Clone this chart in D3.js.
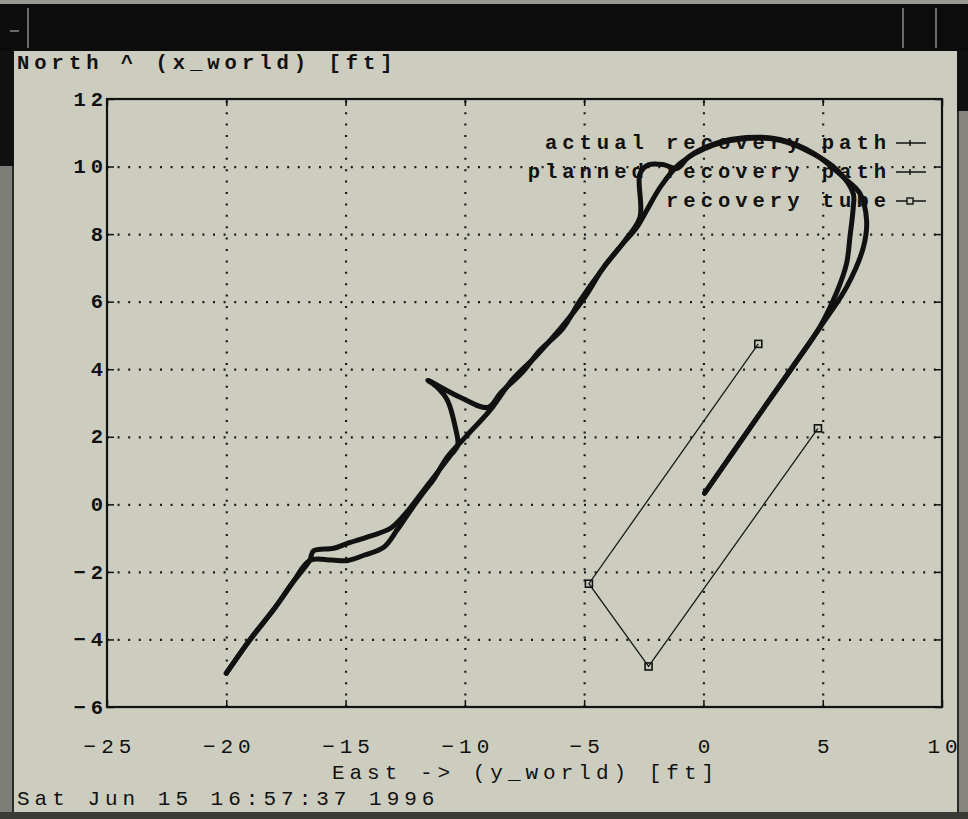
<!DOCTYPE html>
<html>
<head>
<meta charset="utf-8">
<script src="https://cdn.jsdelivr.net/npm/d3@7"></script>
<style>
  body { margin: 0; background: #cdcdbf; }
  svg { display: block; }
</style>
</head>
<body>
<div id="chart"></div>
<script>
// axis ticks
const xTicks = [-25, -20, -15, -10, -5, 0, 5, 10];
const yTicks = [-6, -4, -2, 0, 2, 4, 6, 8, 10, 12];

// actual recovery path [East y_world, North x_world]
const actualPath = [
  [-20.0, -5.0], [-19.0, -4.0], [-18.0, -3.1], [-17.2, -2.3], [-16.5, -1.66],
  [-16.35, -1.38], [-15.5, -1.3], [-14.9, -1.15], [-14.0, -0.95], [-13.1, -0.7],
  [-12.4, -0.2], [-11.8, 0.35], [-11.2, 0.9], [-10.6, 1.45], [-10.3, 1.75],
  [-10.4, 2.28], [-10.73, 3.08], [-11.15, 3.46], [-11.55, 3.67], [-10.2, 3.17],
  [-9.03, 2.87], [-8.5, 3.3], [-7.6, 3.9], [-6.85, 4.56], [-5.9, 5.2],
  [-5.2, 6.0], [-4.2, 7.0], [-3.3, 7.8], [-2.66, 8.5], [-2.66, 9.79],
  [-2.3, 10.05], [-1.7, 10.06], [-1.1, 9.95], [-0.6, 10.3], [0.4, 10.66],
  [1.8, 10.86], [3.2, 10.8], [4.6, 10.4], [6.0, 9.6], [6.56, 9.2],
  [6.84, 8.4], [6.7, 7.6], [6.0, 6.43], [4.9, 5.25], [3.7, 4.03],
  [2.5, 2.82], [1.3, 1.6], [0.05, 0.33]
];

// planned recovery path
const plannedPath = [
  [-20.0, -5.0], [-19.0, -4.0], [-18.0, -3.1], [-17.2, -2.3], [-16.5, -1.66],
  [-15.6, -1.65], [-14.9, -1.66], [-14.2, -1.5], [-13.4, -1.27], [-12.85, -0.77],
  [-12.2, -0.1], [-11.76, 0.33], [-11.3, 0.75], [-10.75, 1.39], [-9.9, 2.05],
  [-8.95, 2.78], [-8.0, 3.7], [-7.0, 4.4], [-6.0, 5.2], [-5.0, 6.1],
  [-4.2, 7.0], [-3.4, 7.7], [-2.79, 8.2], [-2.38, 8.7], [-1.8, 9.4],
  [-0.98, 10.09], [0.41, 10.63], [1.81, 10.83], [3.21, 10.78], [4.6, 10.38],
  [5.6, 9.9], [6.28, 9.2], [6.28, 8.8], [6.14, 7.91], [6.0, 7.13],
  [5.6, 6.3], [4.88, 5.25], [3.7, 4.03], [2.5, 2.82], [1.3, 1.6], [0.05, 0.33]
];

// recovery tube corners
const tubePoints = [[2.3, 4.75], [-4.8, -2.35], [-2.3, -4.8], [4.8, 2.25]];

const legendLabels = ["actual recovery path", "planned recovery path", "recovery tube"];
const yLabel = "North ^ (x_world) [ft]";
const xLabel = "East -> (y_world) [ft]";
const stamp = "Sat Jun 15 16:57:37 1996";

const width = 968, height = 819;
const margin = { top: 99, right: 26, bottom: 112, left: 107 };
const plotW = width - margin.left - margin.right;
const plotH = height - margin.top - margin.bottom;
const bg = "#cdcdbf";

const svg = d3.select("#chart").append("svg")
  .attr("width", width)
  .attr("height", height);

// window chrome
svg.append("rect").attr("width", width).attr("height", height).attr("fill", bg);
svg.append("rect").attr("x", 0).attr("y", 0).attr("width", width).attr("height", 4).attr("fill", "#9a9a92");
svg.append("rect").attr("x", 0).attr("y", 4).attr("width", width).attr("height", 47).attr("fill", "#0c0c0c");
svg.append("line").attr("x1", 28).attr("x2", 28).attr("y1", 8).attr("y2", 48).attr("stroke", "#8a8a84").attr("stroke-width", 1.5);
svg.append("line").attr("x1", 10).attr("x2", 19).attr("y1", 31).attr("y2", 31).attr("stroke", "#8a8a84").attr("stroke-width", 1.5);
svg.append("line").attr("x1", 903).attr("x2", 903).attr("y1", 8).attr("y2", 48).attr("stroke", "#8a8a84").attr("stroke-width", 1.5);
svg.append("line").attr("x1", 936).attr("x2", 936).attr("y1", 8).attr("y2", 48).attr("stroke", "#8a8a84").attr("stroke-width", 1.5);
svg.append("rect").attr("x", 0).attr("y", 51).attr("width", 14).attr("height", 115).attr("fill", "#111");
svg.append("rect").attr("x", 0).attr("y", 166).attr("width", 14).attr("height", height - 166).attr("fill", "#7e7e78");
svg.append("line").attr("x1", 13).attr("x2", 13).attr("y1", 166).attr("y2", height).attr("stroke", "#2a2a28").attr("stroke-width", 2);
svg.append("rect").attr("x", 957).attr("y", 51).attr("width", 11).attr("height", 60).attr("fill", "#111");
svg.append("rect").attr("x", 957).attr("y", 111).attr("width", 11).attr("height", height - 111).attr("fill", "#86867f");
svg.append("line").attr("x1", 958).attr("x2", 958).attr("y1", 111).attr("y2", height).attr("stroke", "#2a2a28").attr("stroke-width", 2);
svg.append("rect").attr("x", 0).attr("y", 812).attr("width", width).attr("height", 7).attr("fill", "#3a3a36");

const x = d3.scaleLinear().domain([-25, 10]).range([margin.left, margin.left + plotW]);
const y = d3.scaleLinear().domain([-6, 12]).range([margin.top + plotH, margin.top]);

// dotted grid
const gridX = svg.append("g")
  .attr("transform", `translate(0,${margin.top + plotH})`)
  .call(d3.axisBottom(x).tickValues(xTicks.slice(1, -1)).tickSize(-plotH).tickFormat(""));
gridX.select(".domain").remove();
gridX.selectAll("line").attr("stroke", "#1a1a1a").attr("stroke-width", 2.2).attr("stroke-dasharray", "2,9.4");

const gridY = svg.append("g")
  .attr("transform", `translate(${margin.left},0)`)
  .call(d3.axisLeft(y).tickValues(yTicks.slice(1, -1)).tickSize(-plotW).tickFormat(""));
gridY.select(".domain").remove();
gridY.selectAll("line").attr("stroke", "#1a1a1a").attr("stroke-width", 2.2).attr("stroke-dasharray", "2,8.6");

// inward tick marks on all four sides
const tickLen = 7;
[
  [d3.axisBottom(x).tickValues(xTicks), `translate(0,${margin.top + plotH})`],
  [d3.axisTop(x).tickValues(xTicks), `translate(0,${margin.top})`],
  [d3.axisLeft(y).tickValues(yTicks), `translate(${margin.left},0)`],
  [d3.axisRight(y).tickValues(yTicks), `translate(${margin.left + plotW},0)`]
].forEach(([ax, tr]) => {
  const g = svg.append("g").attr("transform", tr).call(ax.tickSize(-tickLen).tickFormat(""));
  g.select(".domain").remove();
  g.selectAll("line").attr("stroke", "#111").attr("stroke-width", 1.5);
});

// frame
svg.append("rect")
  .attr("x", margin.left).attr("y", margin.top)
  .attr("width", plotW).attr("height", plotH)
  .attr("fill", "none").attr("stroke", "#111").attr("stroke-width", 2.2);

// fonts
const boldFont = { family: "'Liberation Mono', 'Courier New', monospace", size: 20.5, ls: 5.0 };
const thinFont = { family: "'Liberation Mono', 'DejaVu Sans Mono', monospace", size: 21, ls: 5.0 };

// tick labels
const yAxis = svg.append("g")
  .attr("transform", `translate(${margin.left - 4},0)`)
  .call(d3.axisLeft(y).tickValues(yTicks).tickSize(0).tickPadding(0));
yAxis.select(".domain").remove();
yAxis.selectAll("text")
  .attr("font-family", boldFont.family).attr("font-size", boldFont.size)
  .attr("font-weight", "bold").attr("letter-spacing", boldFont.ls)
  .attr("fill", "#111").attr("dx", boldFont.ls).attr("dy", "0.3em");

const xAxis = svg.append("g")
  .attr("transform", `translate(0,${margin.top + plotH})`)
  .call(d3.axisBottom(x).tickValues(xTicks).tickSize(0).tickPadding(0));
xAxis.select(".domain").remove();
xAxis.selectAll("text")
  .attr("font-family", thinFont.family).attr("font-size", thinFont.size)
  .attr("letter-spacing", thinFont.ls).attr("fill", "#111")
  .attr("dx", thinFont.ls / 2).attr("dy", 0).attr("y", 46);

// axis titles and stamp
svg.append("text").text(yLabel)
  .attr("x", 17).attr("y", 69)
  .attr("font-family", boldFont.family).attr("font-size", boldFont.size)
  .attr("font-weight", "bold").attr("letter-spacing", boldFont.ls).attr("fill", "#111");

svg.append("text").text(xLabel)
  .attr("x", 523 + thinFont.ls / 2).attr("y", 779)
  .attr("text-anchor", "middle")
  .attr("font-family", thinFont.family).attr("font-size", thinFont.size)
  .attr("letter-spacing", thinFont.ls).attr("fill", "#111");

svg.append("text").text(stamp)
  .attr("x", 17).attr("y", 805)
  .attr("font-family", thinFont.family).attr("font-size", thinFont.size)
  .attr("letter-spacing", thinFont.ls).attr("fill", "#111");

// data
const line = d3.line().x(d => x(d[0])).y(d => y(d[1])).curve(d3.curveCatmullRom.alpha(0.5));
const plot = svg.append("g");

plot.append("path").datum(tubePoints)
  .attr("d", d3.line().x(d => x(d[0])).y(d => y(d[1])))
  .attr("fill", "none").attr("stroke", "#1a1a1a").attr("stroke-width", 1.3);

plot.selectAll(".tube-pt").data(tubePoints).enter().append("rect")
  .attr("class", "tube-pt")
  .attr("x", d => x(d[0]) - 3.5).attr("y", d => y(d[1]) - 3.5)
  .attr("width", 7).attr("height", 7)
  .attr("fill", "none").attr("stroke", "#111").attr("stroke-width", 1.6);

[plannedPath, actualPath].forEach(p => {
  plot.append("path").datum(p)
    .attr("d", line)
    .attr("fill", "none").attr("stroke", "#111")
    .attr("stroke-width", 5).attr("stroke-linejoin", "round").attr("stroke-linecap", "round");
});

// legend
const legendRows = [143, 172, 201];
const legend = svg.append("g").attr("class", "legend");
legendLabels.forEach((label, i) => {
  const ly = legendRows[i];
  legend.append("text").text(label)
    .attr("x", 886 + boldFont.ls).attr("y", ly + 6)
    .attr("text-anchor", "end")
    .attr("font-family", boldFont.family).attr("font-size", boldFont.size)
    .attr("font-weight", "bold").attr("letter-spacing", boldFont.ls).attr("fill", "#111");
  legend.append("line")
    .attr("x1", 896).attr("x2", 926).attr("y1", ly).attr("y2", ly)
    .attr("stroke", "#111").attr("stroke-width", 1.5);
  if (i < 2) {
    legend.append("line")
      .attr("x1", 910).attr("x2", 910).attr("y1", ly - 3).attr("y2", ly + 3)
      .attr("stroke", "#111").attr("stroke-width", 1.5);
  } else {
    legend.append("rect")
      .attr("x", 907).attr("y", ly - 3).attr("width", 6).attr("height", 6)
      .attr("fill", bg).attr("stroke", "#111").attr("stroke-width", 1.4);
  }
});
</script>
</body>
</html>
